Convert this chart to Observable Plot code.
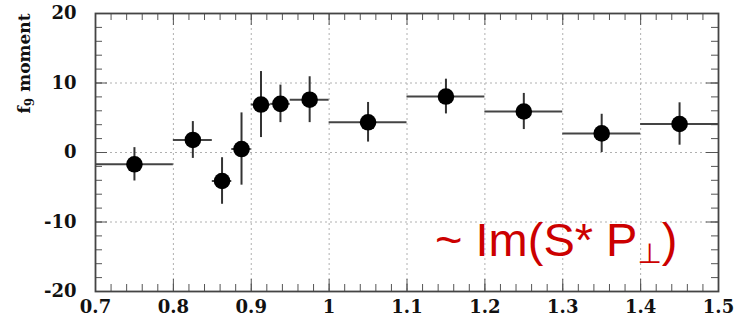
<!DOCTYPE html>
<html><head><meta charset="utf-8">
<script src="https://cdn.jsdelivr.net/npm/d3@7"></script>
<script src="https://cdn.jsdelivr.net/npm/@observablehq/plot@0.6"></script>
<style>body{margin:0;background:#fff} svg{display:block}</style>
</head><body><div id="chart"></div>
<script>
// Data
const binLow    = [0.70, 0.80, 0.85, 0.875, 0.90, 0.925, 0.95, 1.00, 1.10, 1.20, 1.30, 1.40];
const binHigh   = [0.80, 0.85, 0.875, 0.90, 0.925, 0.95, 1.00, 1.10, 1.20, 1.30, 1.40, 1.50];
const binCenter = [0.75, 0.825, 0.8625, 0.8875, 0.9125, 0.9375, 0.975, 1.05, 1.15, 1.25, 1.35, 1.45];
const moment    = [-1.7, 1.8, -4.1, 0.5, 6.9, 7.0, 7.6, 4.35, 8.05, 5.9, 2.75, 4.1];
const momentErr = [2.4, 2.65, 3.35, 5.2, 4.75, 2.7, 3.3, 2.85, 2.5, 2.6, 2.75, 3.05];

const xTickValues = [0.7, 0.8, 0.9, 1, 1.1, 1.2, 1.3, 1.4, 1.5];
const yTickValues = [-20, -10, 0, 10, 20];
const xGridValues = [0.8, 0.9, 1, 1.1, 1.2, 1.3, 1.4];
const yGridValues = [-10, 0, 10];
const xMinorTicks = d3.range(35, 76).map(i => i / 50);
const yMinorTicks = d3.range(-20, 21, 2);
const yLabel = "f9 moment";
const annotation = "~ Im(S* P⊥)";

const data = binCenter.map((x, i) => ({x, lo: binLow[i], hi: binHigh[i], y: moment[i], e: momentErr[i]}));

const W = 734, H = 324, mL = 95, mR = 16, mT = 13, mB = 33;
const pw = W - mL - mR, ph = H - mT - mB;
const minorLen = 7, majorLen = 12;
const tickColor = "#555";
const tickFont = "'DejaVu Serif', 'Liberation Serif', serif";

const svg = Plot.plot({
  width: W, height: H,
  marginLeft: mL, marginRight: mR, marginTop: mT, marginBottom: mB,
  x: {domain: [0.7, 1.5]},
  y: {domain: [-20, 20]},
  style: {background: "#fff"},
  marks: [
    Plot.gridX(xGridValues, {stroke: "#b0b0b0", strokeOpacity: 1, strokeDasharray: "2,3"}),
    Plot.gridY(yGridValues, {stroke: "#b0b0b0", strokeOpacity: 1, strokeDasharray: "2,3"}),
    // minor ticks (inward)
    Plot.ruleX(xMinorTicks, {x: d => d, insetTop: ph - minorLen, stroke: tickColor}),
    Plot.ruleX(xMinorTicks, {x: d => d, insetBottom: ph - minorLen, stroke: tickColor}),
    Plot.ruleY(yMinorTicks, {y: d => d, insetRight: pw - minorLen, stroke: tickColor}),
    Plot.ruleY(yMinorTicks, {y: d => d, insetLeft: pw - minorLen, stroke: tickColor}),
    // major ticks
    Plot.ruleX(xTickValues, {x: d => d, insetTop: ph - majorLen, stroke: tickColor}),
    Plot.ruleX(xTickValues, {x: d => d, insetBottom: ph - majorLen, stroke: tickColor}),
    Plot.ruleY(yTickValues, {y: d => d, insetRight: pw - majorLen, stroke: tickColor}),
    Plot.ruleY(yTickValues, {y: d => d, insetLeft: pw - majorLen, stroke: tickColor}),
    // bins and errors
    Plot.ruleY(data, {y: "y", x1: "lo", x2: "hi", stroke: "#444", strokeWidth: 2}),
    Plot.ruleX(data, {x: "x", y1: d => d.y - d.e, y2: d => d.y + d.e, stroke: "#333", strokeWidth: 2}),
    Plot.dot(data, {x: "x", y: "y", r: 8.3, fill: "#000", stroke: "none"}),
    Plot.frame({stroke: "#444", strokeWidth: 1.8}),
    Plot.axisX(xTickValues, {tickSize: 0, tickPadding: 9, tickFormat: d => String(d), label: null,
      fontSize: 18, fontWeight: "bold", fontFamily: tickFont, fill: "#111"}),
    Plot.axisY(yTickValues, {tickSize: 0, tickPadding: 19, tickFormat: d => String(d), label: null,
      fontSize: 18, fontWeight: "bold", fontFamily: tickFont, fill: "#111"}),
    Plot.text([yLabel], {frameAnchor: "top-left", rotate: -90, textAnchor: "end", lineAnchor: "bottom",
      dx: -(mL - 29), dy: 0, fontSize: 17, fontWeight: "bold", fontFamily: tickFont, fill: "#111"}),
    Plot.text([annotation], {frameAnchor: "bottom-right", textAnchor: "end", lineAnchor: "bottom",
      dx: -41, dy: -36, fontSize: 47, fontWeight: "normal", fontFamily: "'Liberation Sans', Arial, sans-serif", fill: "#cc0000"})
  ]
});

// rich-text tweaks: subscripts
d3.select(svg).selectAll("text").each(function() {
  const t = d3.select(this);
  if (this.textContent === yLabel) {
    t.text(null);
    t.append("tspan").text("f");
    t.append("tspan").attr("dy", 4).attr("font-size", 12).text("9");
    t.append("tspan").attr("dy", -4).text(" moment");
  } else if (this.textContent === annotation) {
    t.text(null);
    t.append("tspan").text("~ Im(S* P");
    t.append("tspan").attr("dy", 7).attr("font-size", 28).attr("font-family", "'DejaVu Sans', sans-serif").text("⊥");
    t.append("tspan").attr("dy", -7).text(")");
  }
});

document.getElementById("chart").appendChild(svg);
</script>
</body></html>
